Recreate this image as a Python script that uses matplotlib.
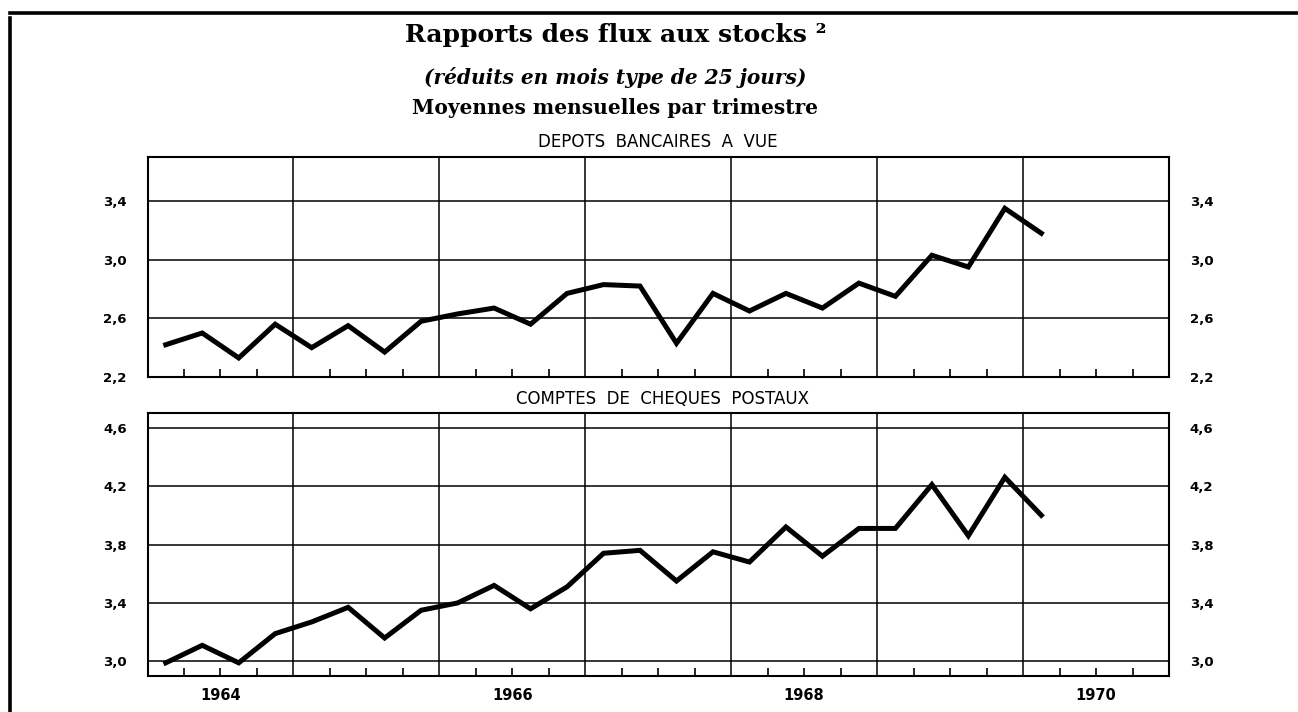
import matplotlib
matplotlib.use("Agg")
import matplotlib.pyplot as plt
from matplotlib.lines import Line2D
from matplotlib.ticker import FixedLocator

# ---- data (quarterly, monthly averages) ----
quarters = [(y, q) for y in range(1964, 1971) for q in (1, 2, 3, 4)][:25]   # 1964 T1 .. 1970 T1
depots_vue = [2.42, 2.50, 2.33, 2.56, 2.40, 2.55, 2.37, 2.58, 2.63, 2.67, 2.56, 2.77, 2.83,
              2.82, 2.43, 2.77, 2.65, 2.77, 2.67, 2.84, 2.75, 3.03, 2.95, 3.35, 3.18]
cheques_postaux = [2.99, 3.11, 2.99, 3.19, 3.27, 3.37, 3.16, 3.35, 3.40, 3.52, 3.36, 3.51, 3.74,
                   3.76, 3.55, 3.75, 3.68, 3.92, 3.72, 3.91, 3.91, 4.21, 3.86, 4.26, 4.00]
year_labels = ["1964", "1966", "1968", "1970"]
year_label_pos = [1964.5, 1966.5, 1968.5, 1970.5]
yticks_top = [2.2, 2.6, 3.0, 3.4]
yticks_bottom = [3.0, 3.4, 3.8, 4.2, 4.6]

x = [y + (q - 0.5) / 4 for (y, q) in quarters]

fig = plt.figure(figsize=(12.98, 7.12), dpi=100)
W, H = 1298, 712

def make_ax(top_px, bottom_px):
    left, right = 147.5, 1169
    return fig.add_axes([left / W, 1 - bottom_px / H, (right - left) / W, (bottom_px - top_px) / H])

ax1 = make_ax(157, 377)
ax2 = make_ax(413, 676)

def style(ax, yt, ylim, show_years):
    ax.set_xlim(1964, 1971)
    ax.set_ylim(*ylim)
    for yr in range(1965, 1971):
        ax.axvline(yr, color="black", lw=1.1, zorder=1)
    for v in yt:
        ax.axhline(v, color="black", lw=1.1, zorder=1)
    ax.set_yticks(yt)
    ax.set_yticklabels([f"{v:.1f}".replace(".", ",") for v in yt])
    ax.tick_params(axis="y", length=0, pad=15, labelleft=True, labelright=True,
                   labelsize=9.5)
    for lab in ax.get_yticklabels():
        lab.set_fontweight("bold")
    ax.xaxis.remove_overlapping_locs = False
    qt = [1964 + i / 4 for i in range(1, 28) if i % 4 != 0]
    ax.xaxis.set_minor_locator(FixedLocator(qt))
    ax.tick_params(axis="x", which="minor", direction="in", length=6, width=1.2,
                   bottom=True, top=False)
    if show_years:
        ax.set_xticks(year_label_pos)
        ax.set_xticklabels(year_labels)
        ax.tick_params(axis="x", which="major", length=0, pad=9, labelsize=10.5)
        for lab in ax.get_xticklabels():
            lab.set_fontweight("bold")
    else:
        ax.set_xticks([])
    for s in ax.spines.values():
        s.set_linewidth(1.5)
        s.set_zorder(3)

style(ax1, yticks_top, (2.2, 3.7), False)
style(ax2, yticks_bottom, (2.9, 4.7), True)

ax1.plot(x, depots_vue, color="black", lw=3.6, solid_joinstyle="miter", zorder=4)
ax2.plot(x, cheques_postaux, color="black", lw=3.6, solid_joinstyle="miter", zorder=4)

# ---- titles ----
fig.text(0.474, 1 - 35 / H, "Rapports des flux aux stocks ²", ha="center", va="center",
         fontsize=18, fontweight="bold", family="DejaVu Serif")
fig.text(0.474, 1 - 77 / H, "(réduits en mois type de 25 jours)", ha="center", va="center",
         fontsize=14.5, fontweight="bold", style="italic", family="DejaVu Serif")
fig.text(0.474, 1 - 108 / H, "Moyennes mensuelles par trimestre", ha="center", va="center",
         fontsize=14.5, fontweight="bold", family="DejaVu Serif")
fig.text(658 / W, 1 - 142 / H, "DEPOTS  BANCAIRES  A  VUE", ha="center", va="center",
         fontsize=12, family="DejaVu Sans")
fig.text(662 / W, 1 - 399 / H, "COMPTES  DE  CHEQUES  POSTAUX", ha="center", va="center",
         fontsize=12, family="DejaVu Sans")

# ---- page frame ----
fig.add_artist(Line2D([10 / W, 1.0], [1 - 13 / H, 1 - 13 / H], color="black", lw=2.6,
                      transform=fig.transFigure))
fig.add_artist(Line2D([10 / W, 10 / W], [1 - 18 / H, 0.0], color="black", lw=2.6,
                      transform=fig.transFigure))

fig.savefig("out.png", dpi=100, facecolor="white")
